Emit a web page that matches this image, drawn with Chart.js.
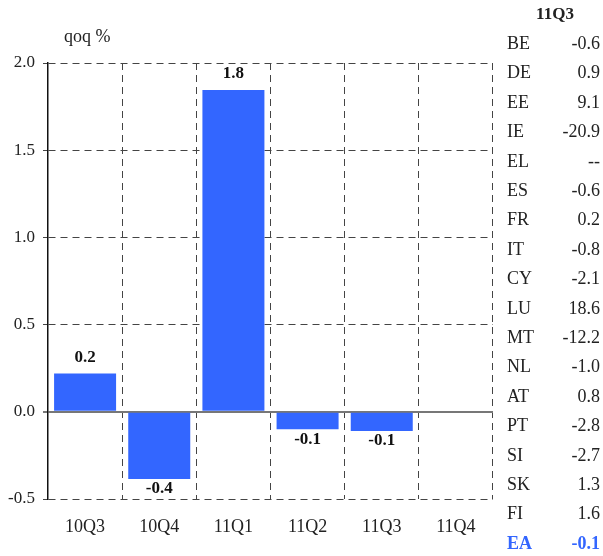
<!DOCTYPE html>
<html>
<head>
<meta charset="utf-8">
<script src="https://cdn.jsdelivr.net/npm/chart.js@4/dist/chart.umd.min.js"></script>
<style>
  body { margin: 0; background: #fff; }
  #wrap { position: relative; width: 603px; height: 556px; font-family: "Liberation Serif", serif; color: #222; }
  #qoqChart { position: absolute; left: 0; top: 0; }
  #side { position: absolute; left: 0; top: 0; width: 603px; height: 556px; pointer-events: none; }
  .head { position: absolute; left: 505px; width: 100px; text-align: center; font-weight: bold; font-size: 17px; }
  .row { position: absolute; left: 507px; width: 93px; font-size: 18px; line-height: 20px; }
  .row .val { position: absolute; right: 0; top: 0; }
  .row.ea { color: #3366FF; font-weight: bold; }
</style>
</head>
<body>
<div id="wrap">
  <canvas id="qoqChart" width="603" height="556"></canvas>
  <div id="side"></div>
</div>
<script>
'use strict';
{
  // ***** data *****
  const categories = ['10Q3', '10Q4', '11Q1', '11Q2', '11Q3', '11Q4'];
  const qoq = [0.22, -0.385, 1.845, -0.10, -0.11, null];
  const yMin = -0.5;
  const yMax = 2.0;
  const yStep = 0.5;
  const unitLabel = 'qoq %';

  const tableHeader = '11Q3';
  const countries = ['BE','DE','EE','IE','EL','ES','FR','IT','CY','LU','MT','NL','AT','PT','SI','SK','FI','EA'];
  const countryValues = [-0.6, 0.9, 9.1, -20.9, null, -0.6, 0.2, -0.8, -2.1, 18.6, -12.2, -1.0, 0.8, -2.8, -2.7, 1.3, 1.6, -0.1];

  // ***** right-hand table *****
  const side = document.getElementById('side');
  const head = document.createElement('div');
  head.className = 'head';
  head.style.top = '4px';
  head.textContent = tableHeader;
  side.appendChild(head);

  countries.forEach(function (c, i) {
    const row = document.createElement('div');
    row.className = 'row' + (c === 'EA' ? ' ea' : '');
    row.style.top = (33 + i * 29.4) + 'px';
    const v = countryValues[i];
    row.innerHTML = '<span>' + c + '</span><span class="val">' + (v === null ? '--' : v.toFixed(1)) + '</span>';
    side.appendChild(row);
  });

  // ***** labels on bars *****
  const barValueLabels = {
    id: 'barValueLabels',
    afterDatasetsDraw(chart) {
      const ctx = chart.ctx;
      const meta = chart.getDatasetMeta(0);
      ctx.save();
      ctx.font = 'bold 17px "Liberation Serif"';
      ctx.fillStyle = '#111';
      ctx.textAlign = 'center';
      ctx.textBaseline = 'middle';
      meta.data.forEach(function (bar, i) {
        const v = qoq[i];
        if (v === null) return;
        const y = v >= 0 ? bar.y - 16 : bar.y + 10;
        ctx.fillText(v.toFixed(1), bar.x, y);
      });
      // unit label
      ctx.font = '18px "Liberation Serif"';
      ctx.fillStyle = '#222';
      ctx.textAlign = 'left';
      ctx.fillText(unitLabel, chart.chartArea.left + 16, chart.chartArea.top - 26);
      ctx.restore();
    }
  };

  window.onload = function () {
    const context = document.getElementById('qoqChart').getContext('2d');

    new Chart(context, {
      type: 'bar',
      data: {
        labels: categories,
        datasets: [{
          data: qoq,
          backgroundColor: '#3366FF',
          barPercentage: 0.836,
          categoryPercentage: 1.0,
        }],
      },
      options: {
        responsive: false,
        animation: false,
        layout: {
          padding: { top: 63, right: 110, left: 0, bottom: 0 },
        },
        scales: {
          x: {
            grid: {
              offset: true,
              color: '#444',
              lineWidth: 1,
              drawTicks: false,
            },
            border: { display: false, dash: [7, 5] },
            ticks: {
              color: '#222',
              font: { family: 'Liberation Serif', size: 18 },
              padding: 17,
            },
            afterFit: function (scale) { scale.height = 57; },
          },
          y: {
            min: yMin,
            max: yMax,
            ticks: {
              stepSize: yStep,
              color: '#222',
              font: { family: 'Liberation Serif', size: 17 },
              padding: 8,
              callback: function (value) { return value.toFixed(1); },
            },
            grid: {
              color: function (c) { return c.tick && c.tick.value === 0 ? '#777' : '#444'; },
              lineWidth: function (c) { return c.tick && c.tick.value === 0 ? 2 : 1; },
              tickLength: 5,
            },
            border: {
              display: true,
              color: '#111',
              width: 1.5,
              dash: function (c) { return c.tick && c.tick.value === 0 ? [] : [7, 5]; },
            },
            afterFit: function (scale) { scale.width = 48; },
          },
        },
        plugins: {
          legend: { display: false },
          tooltip: { enabled: false },
        },
      },
      plugins: [barValueLabels],
    });
  };
}
</script>
</body>
</html>
